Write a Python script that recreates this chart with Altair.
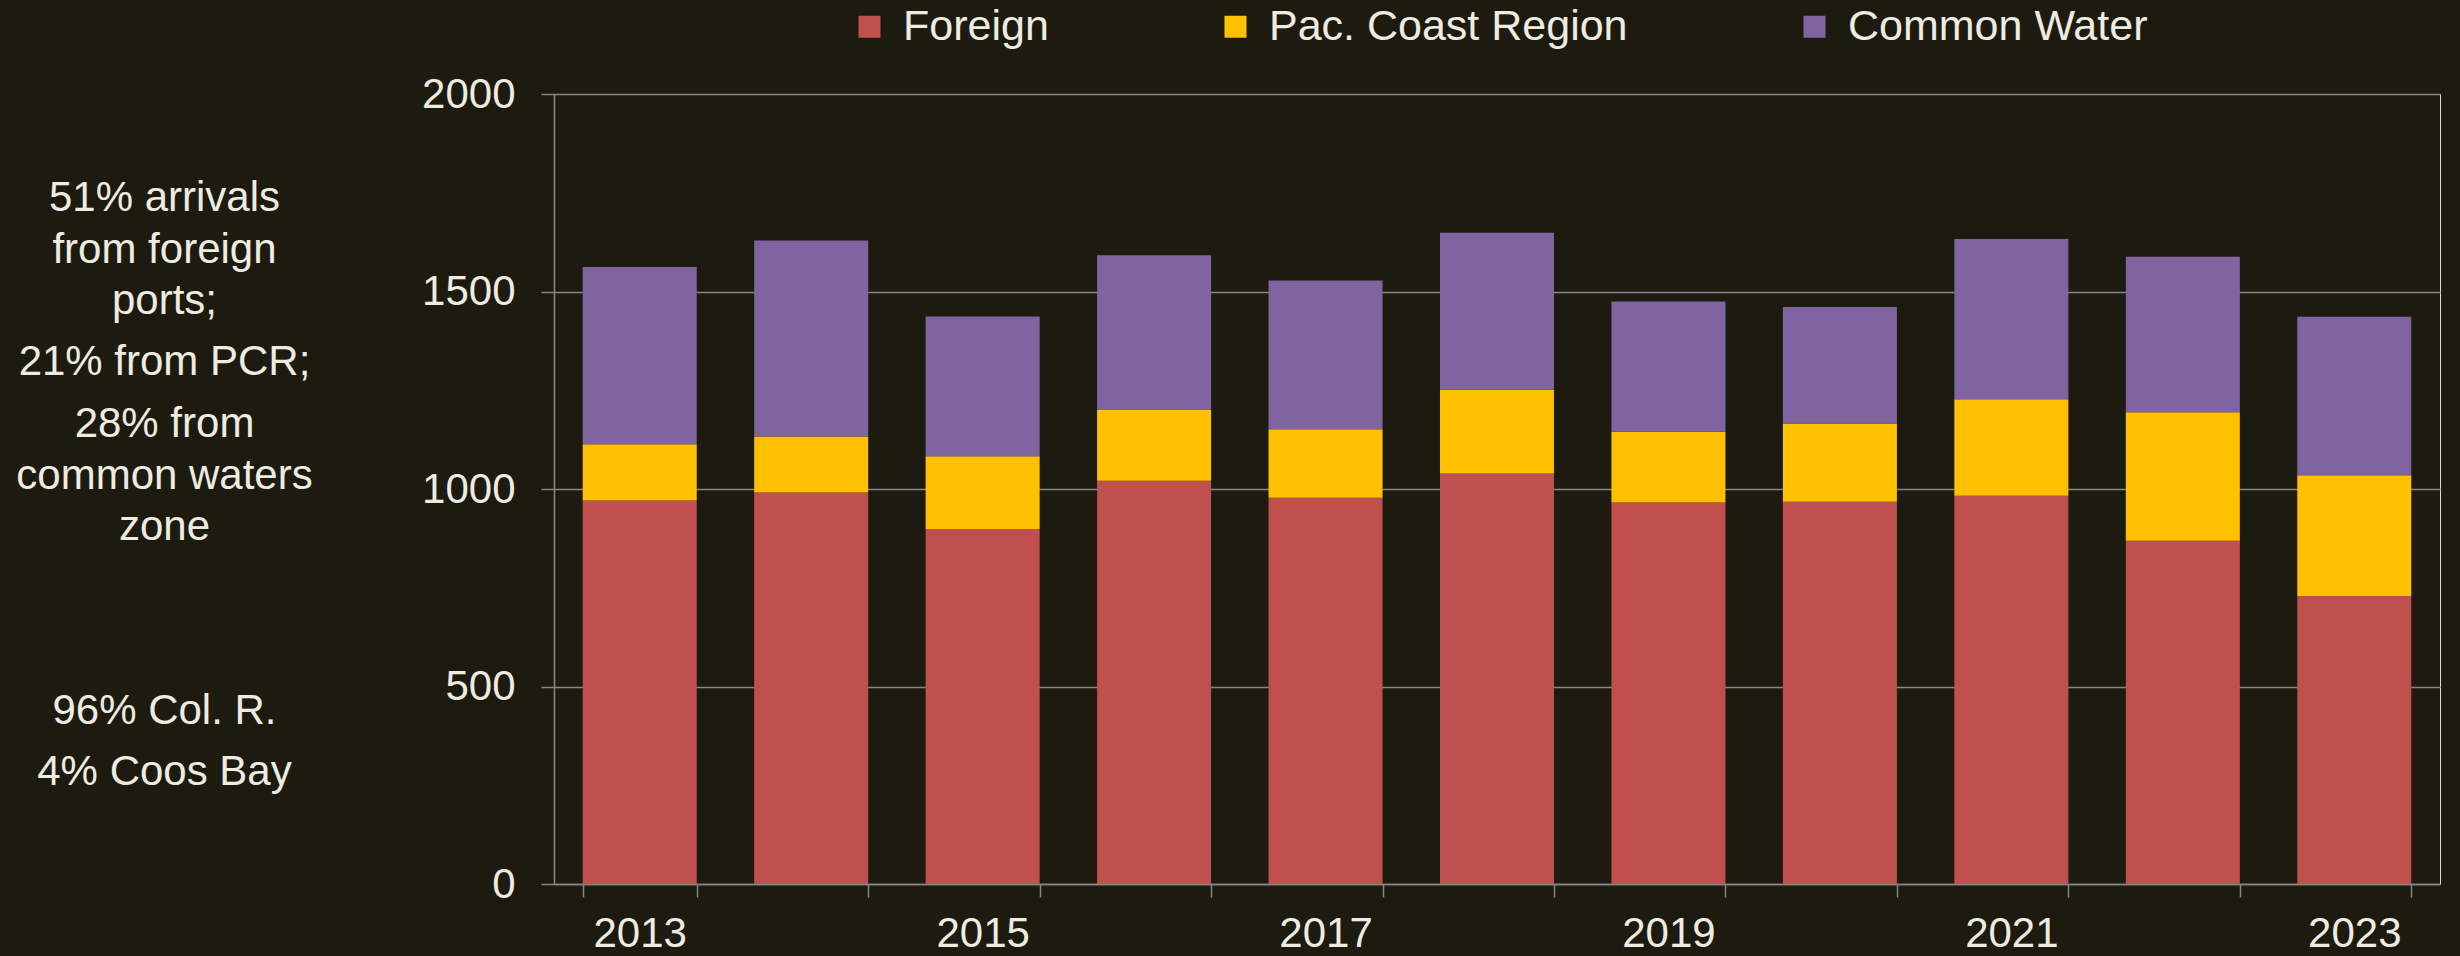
import altair as alt
import pandas as pd

years = [2013, 2014, 2015, 2016, 2017, 2018, 2019, 2020, 2021, 2022, 2023]
foreign = [971, 991, 899, 1021, 978, 1039, 966, 968, 983, 869, 729]
pac_coast = [142, 142, 184, 180, 173, 212, 179, 198, 244, 325, 306]
common_water = [449, 496, 354, 391, 377, 398, 330, 295, 406, 394, 401]

series_names = ["Foreign", "Pac. Coast Region", "Common Water"]
series_colors = ["#C0504D", "#FFC000", "#8064A2"]
y_ticks = [0, 500, 1000, 1500, 2000]

notes = [
    ["51% arrivals", "from foreign", "ports;"],
    ["21% from PCR;"],
    ["28% from", "common waters", "zone"],
    ["96% Col. R."],
    ["4% Coos Bay"],
]

rows = []
for i, y in enumerate(years):
    for k, (name, vals) in enumerate(zip(series_names, [foreign, pac_coast, common_water])):
        rows.append({"Year": str(y), "Series": name, "Value": vals[i], "Order": k})
df = pd.DataFrame(rows)

BG = "#1D1B10"
TXT = "#EEECE1"
GRAY = "#868686"
FONT = "Liberation Sans"

bars = alt.Chart(df).mark_bar().encode(
    x=alt.X("Year:O", title=None,
            scale=alt.Scale(paddingInner=0.335, paddingOuter=0.1675),
            axis=alt.Axis(labelAngle=0, tickBand="extent", tickSize=13, tickColor=GRAY,
                          tickWidth=1.5, domainColor=GRAY, domainWidth=1.5,
                          labelPadding=16, labelFontSize=42, labelColor=TXT, labelFont=FONT,
                          grid=False,
                          labelExpr="toNumber(datum.value) % 2 == 1 ? datum.label : ''")),
    y=alt.Y("Value:Q", title=None, stack="zero",
            scale=alt.Scale(domain=[0, 2000], nice=False),
            axis=alt.Axis(values=y_ticks, format="d", tickSize=13, tickColor=GRAY, tickWidth=1.5,
                          domainColor=GRAY, domainWidth=1.5, labelPadding=26,
                          labelFontSize=42, labelColor=TXT, labelFont=FONT,
                          grid=True, gridColor=GRAY, gridWidth=1.5)),
    color=alt.Color("Series:N",
                    scale=alt.Scale(domain=series_names, range=series_colors),
                    legend=alt.Legend(orient="none", legendX=294, legendY=-89,
                                      direction="horizontal", title=None,
                                      symbolType="square", symbolSize=484,
                                      symbolStrokeWidth=0, labelFontSize=43,
                                      labelColor=TXT, labelFont=FONT, labelOffset=12,
                                      columnPadding=165, padding=0, labelLimit=1000)),
    order=alt.Order("Order:Q", sort="ascending"),
)

dummy = pd.DataFrame({"k": [0]})
note_y = [117, 281, 343, 629.5, 691]
layers = [bars]
for lines, yy in zip(notes, note_y):
    layers.append(
        alt.Chart(dummy).mark_text(text=lines, align="center", baseline="alphabetic",
                                   fontSize=42, lineHeight=51.5, color=TXT, font=FONT)
        .encode(x=alt.value(-389.5), y=alt.value(yy))
    )

chart = alt.layer(*layers).properties(
    width=1886, height=790,
    autosize=alt.AutoSizeParams(type="none"),
    padding={"left": 554, "top": 94, "right": 20, "bottom": 72},
    background=BG,
).configure_view(stroke=None).configure(font=FONT)

chart.save("out.html", embed_options={"renderer": "svg", "actions": False})

with open("out.html", "r", encoding="utf-8") as f:
    html = f.read()
style = "<style>html,body{background:%s;margin:0;padding:0;overflow:hidden}</style>" % BG
html = html.replace("<head>", "<head>" + style, 1)
with open("out.html", "w", encoding="utf-8") as f:
    f.write(html)
